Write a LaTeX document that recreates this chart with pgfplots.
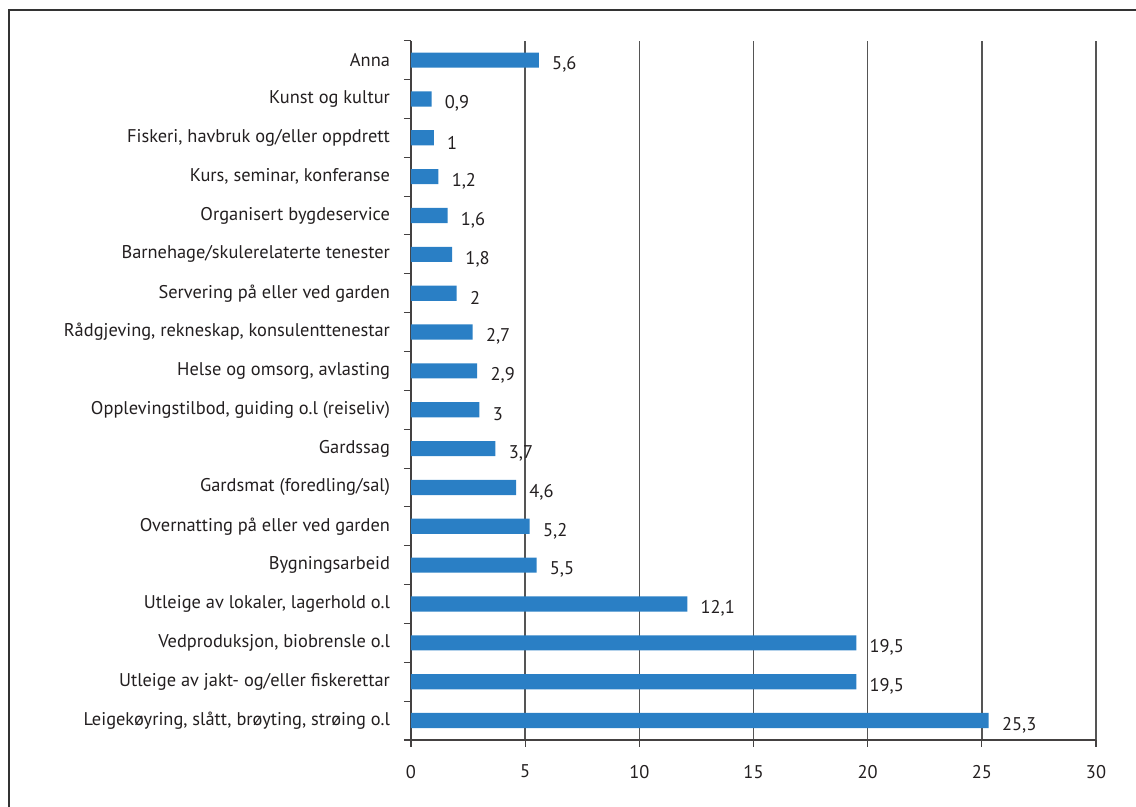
\documentclass[border=0pt]{standalone}
\usepackage{pgfplots}
\pgfplotsset{compat=1.18}
\usepackage{fontspec}
\setmainfont{PT Sans}
\definecolor{barblue}{HTML}{2A7FC5}
\definecolor{txt}{HTML}{231F20}
\definecolor{gridc}{HTML}{555555}

\begin{document}
\begin{tikzpicture}
\useasboundingbox (0,0) rectangle (852pt,605.25pt);
% frame round the figure
\draw[line width=1.5pt, color=black!80] (6.75pt,-5pt) -- (6.75pt,597.75pt) -- (860pt,597.75pt);
\begin{axis}[
  at={(308.25pt,50.25pt)}, anchor=south west,
  scale only axis, width=513.75pt, height=524.5pt,
  xbar, bar width=0.39, bar shift=0pt,
  xmin=0, xmax=30, ymin=-0.5, ymax=17.5,
  axis x line*=bottom, axis y line*=left,
  axis line style={-, draw=txt!85, line width=1pt},
  tick align=outside, major tick length=5.25pt,
  xtick={0,5,...,30},
  xmajorgrids, grid style={draw=gridc, line width=1.1pt},
  xtick style={draw=txt!85, line width=0.8pt},
  xticklabel style={yshift=-10pt},
  ytick={0,...,17},
  ytick style={draw=none},
  yticklabels={
    {Leigekøyring, slått, brøyting, strøing o.l},
    {Utleige av jakt- og/eller fiskerettar},
    {Vedproduksjon, biobrensle o.l},
    {Utleige av lokaler, lagerhold o.l},
    {Bygningsarbeid},
    {Overnatting på eller ved garden},
    {Gardsmat (foredling/sal)},
    {Gardssag},
    {Opplevingstilbod, guiding o.l (reiseliv)},
    {Helse og omsorg, avlasting},
    {Rådgjeving, rekneskap, konsulenttenestar},
    {Servering på eller ved garden},
    {Barnehage/skulerelaterte tenester},
    {Organisert bygdeservice},
    {Kurs, seminar, konferanse},
    {Fiskeri, havbruk og/eller oppdrett},
    {Kunst og kultur},
    {Anna}},
  yticklabel style={xshift=-7pt},
  extra y ticks={-0.5,0.5,...,17.5},
  extra y tick labels={},
  extra y tick style={ytick style={draw=txt!85, line width=0.8pt}},
  tick label style={font=\fontsize{13.8}{15}\selectfont, color=txt},
  /pgf/number format/assume math mode=true,
  /pgf/number format/use comma,
  point meta=x,
  nodes near coords,
  nodes near coords align=horizontal,
  every node near coord/.append style={anchor=west, xshift=6.5pt, yshift=-3.5pt,
    font=\fontsize{13.8}{15}\selectfont, color=txt},
]
\addplot[fill=barblue, draw=none] coordinates {
  (25.3,0) (19.5,1) (19.5,2) (12.1,3) (5.5,4) (5.2,5) (4.6,6) (3.7,7)
  (3,8) (2.9,9) (2.7,10) (2,11) (1.8,12) (1.6,13) (1.2,14) (1,15)
  (0.9,16) (5.6,17)
};
\end{axis}
\end{tikzpicture}
\end{document}
